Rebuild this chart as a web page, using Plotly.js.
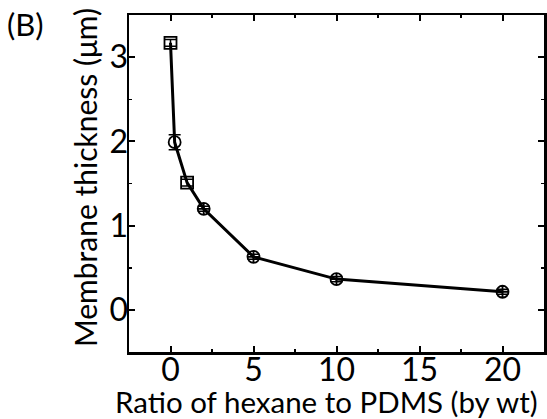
<!DOCTYPE html>
<html><head><meta charset="utf-8">
<script src="https://cdn.plot.ly/plotly-3.0.1.min.js"></script>
<style>html,body{margin:0;padding:0;background:#fff}</style>
</head><body>
<div id="chart" style="width:547px;height:419px"></div>
<script>
const ratio = [0, 0.25, 1, 2, 5, 10, 20];
const thickness = [3.17, 1.99, 1.51, 1.20, 0.63, 0.365, 0.215];
const thicknessErr = [0.04, 0.09, 0.04, 0.03, 0.03, 0.03, 0.03];
const markerSymbols = ['square-open', 'circle-open', 'square-open', 'circle-cross-open', 'circle-cross-open', 'circle-cross-open', 'circle-cross-open'];
const xTicks = [0, 5, 10, 15, 20];
const yTicks = [0, 1, 2, 3];
const xTitle = 'Ratio of hexane to PDMS (by wt)';
const yTitle = 'Membrane thickness (\u03bcm)';
const panelLabel = '(B)';
const FONT = 'Lato, "Open Sans", sans-serif';

const trace = {
  x: ratio, y: thickness, type: 'scatter', mode: 'lines+markers',
  line: {color: '#000', width: 3},
  marker: {symbol: markerSymbols, size: 12, color: '#000', line: {color: '#000', width: 1.8}},
  error_y: {type: 'data', array: thicknessErr, visible: true, color: '#000', thickness: 1.5, width: 6},
  showlegend: false
};

const axisCommon = {
  showline: true, linecolor: '#000', linewidth: 2.5, mirror: 'allticks',
  ticks: 'inside', ticklen: 6, tickwidth: 2, tickcolor: '#000',
  showgrid: false, zeroline: false,
  tickfont: {family: FONT, size: 32, color: '#000'}
};

const layout = {
  width: 547, height: 419,
  margin: {l: 129, r: 3, t: 15, b: 67},
  paper_bgcolor: '#fff', plot_bgcolor: '#fff',
  xaxis: Object.assign({}, axisCommon, {
    range: [-2.5, 22.5], tickvals: xTicks, ticktext: xTicks.map(String),
    minor: {dtick: 2.5, tick0: 0, ticks: 'inside', ticklen: 3, tickwidth: 1.5, tickcolor: '#000'},
    ticklabelstandoff: -12
  }),
  yaxis: Object.assign({}, axisCommon, {
    range: [-0.5, 3.5], tickvals: yTicks, ticktext: yTicks.map(String),
    minor: {dtick: 0.5, tick0: 0, ticks: 'inside', ticklen: 3, tickwidth: 1.5, tickcolor: '#000'},
    ticklabelstandoff: -8
  }),
  annotations: [
    {text: panelLabel, xref: 'paper', yref: 'paper', x: -0.30, y: 1.035,
     xanchor: 'left', yanchor: 'top', showarrow: false,
     font: {family: FONT, size: 31, color: '#000'}},
    {text: xTitle, xref: 'paper', yref: 'paper', x: 0.477, y: -0.148,
     xanchor: 'center', yanchor: 'middle', showarrow: false,
     font: {family: FONT, size: 29.5, color: '#000'}},
    {text: yTitle, xref: 'paper', yref: 'paper', x: -0.106, y: 0.516, textangle: -90,
     xanchor: 'center', yanchor: 'middle', showarrow: false,
     font: {family: FONT, size: 30, color: '#000'}}
  ]
};

Plotly.newPlot('chart', [trace], layout, {displayModeBar: false, staticPlot: true});
</script>
</body></html>
